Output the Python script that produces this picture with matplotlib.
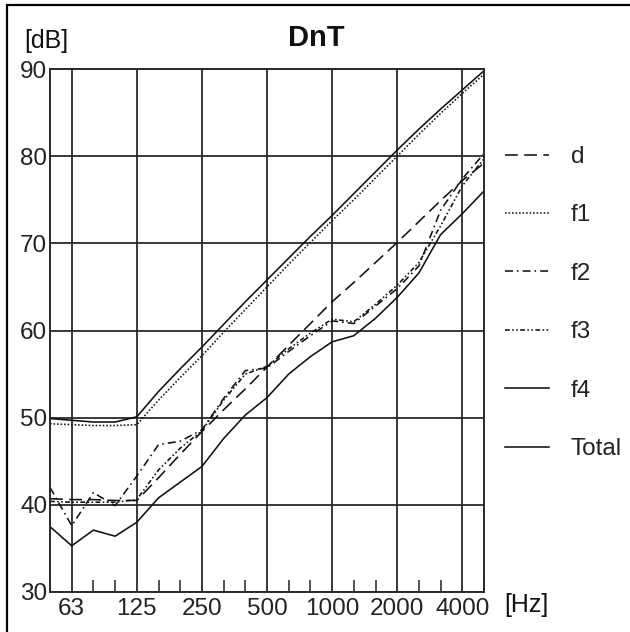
import matplotlib
matplotlib.use("Agg")
import matplotlib.pyplot as plt
from matplotlib.patches import Rectangle

plt.rcParams['font.family'] = ['Liberation Sans', 'DejaVu Sans']

# third-octave bands 50 Hz .. 5000 Hz
bands = [50, 63, 80, 100, 125, 160, 200, 250, 315, 400, 500,
         630, 800, 1000, 1250, 1600, 2000, 2500, 3150, 4000, 5000]
octave_labels = ['63', '125', '250', '500', '1000', '2000', '4000']

d = [40.7, 40.6, 40.6, 40.5, 40.5, 43.1, 45.8, 48.4, 50.9, 53.3, 55.8,
     58.3, 60.8, 63.3, 65.5, 67.8, 70.1, 72.5, 74.9, 77.2, 79.2]
f1 = [49.3, 49.2, 49.1, 49.1, 49.2, 52.0, 54.6, 57.1, 59.8, 62.4, 65.0,
      67.6, 70.1, 72.6, 75.0, 77.5, 80.0, 82.5, 84.9, 87.2, 89.4]
f2 = [42.0, 37.6, 41.4, 39.9, 43.3, 46.9, 47.3, 48.6, 52.2, 55.4, 55.7,
      57.6, 59.4, 61.1, 60.8, 62.8, 64.8, 67.4, 73.8, 77.4, 80.3]
f3 = [40.4, 40.3, 40.3, 40.3, 40.6, 44.0, 46.5, 48.5, 52.0, 55.0, 55.9,
      57.9, 59.7, 61.3, 61.0, 63.0, 65.2, 67.8, 72.0, 76.6, 79.7]
f4 = [49.9, 49.7, 49.5, 49.5, 50.1, 53.0, 55.6, 58.1, 60.7, 63.3, 65.8,
      68.3, 70.8, 73.2, 75.7, 78.2, 80.7, 83.1, 85.4, 87.6, 89.8]
total = [37.5, 35.3, 37.1, 36.4, 38.0, 40.8, 42.6, 44.4, 47.6, 50.3, 52.3,
         55.0, 57.0, 58.7, 59.4, 61.4, 63.8, 66.6, 71.0, 73.4, 76.0]

W, H = 630, 632
fig = plt.figure(figsize=(W / 100, H / 100), dpi=100)
ax = fig.add_axes([50 / W, 40 / H, 434 / W, 523 / H])

x = list(range(len(bands)))
lw = 1.15
ax.plot(x, d, color='#111', lw=lw, dashes=(8, 4), label='d')
ax.plot(x, f1, color='#111', lw=lw, dashes=(1, 1.2), label='f1')
ax.plot(x, f2, color='#111', lw=lw, dashes=(5, 2.5, 1, 2.5), label='f2')
ax.plot(x, f3, color='#111', lw=lw, dashes=(3, 1.5, 1, 1.5, 1, 1.5), label='f3')
ax.plot(x, f4, color='#111', lw=lw, label='f4')
ax.plot(x, total, color='#111', lw=lw, label='Total')

ax.set_xlim(0, len(bands) - 1)
ax.set_ylim(30, 90)

major = [bands.index(int(s)) for s in octave_labels]
ax.set_xticks(major)
ax.set_xticklabels(octave_labels)
ax.set_xticks([i for i in x if i not in major], minor=True)
ax.set_yticks(range(30, 91, 10))

ax.grid(True, which='major', color='#2a2a2a', lw=1.3)
ax.tick_params(which='major', length=0, labelsize=17.5, labelcolor='#222', pad=4)
ax.tick_params(axis='y', pad=2)
ax.tick_params(which='minor', direction='in', length=8.5, width=1.1, color='#222')
for s in ax.spines.values():
    s.set_color('#2a2a2a')
    s.set_linewidth(1.4)

fig.text(316 / W, 1 - 38 / H, 'DnT', fontsize=21, fontweight='bold',
         ha='center', va='center', color='#111')
fig.text(24 / W, 1 - 41 / H, '[dB]', fontsize=18, ha='left', va='center', color='#111')
fig.text(504 / W, 1 - 605 / H, '[Hz]', fontsize=18, ha='left', va='center', color='#111')

fig.legend(loc='upper left', bbox_to_anchor=(505 / W, 1 - 146 / H),
           frameon=False, fontsize=17.5, handlelength=1.8, handletextpad=0.9,
           labelspacing=1.5, borderpad=0, borderaxespad=0, labelcolor='#222')

# outer frame
fig.patches.append(Rectangle((7 / W, -0.05), 1.1, 1.05 - 5 / H,
                             transform=fig.transFigure, fill=False,
                             edgecolor='black', lw=1.6))

fig.savefig('out.png', dpi=100)
